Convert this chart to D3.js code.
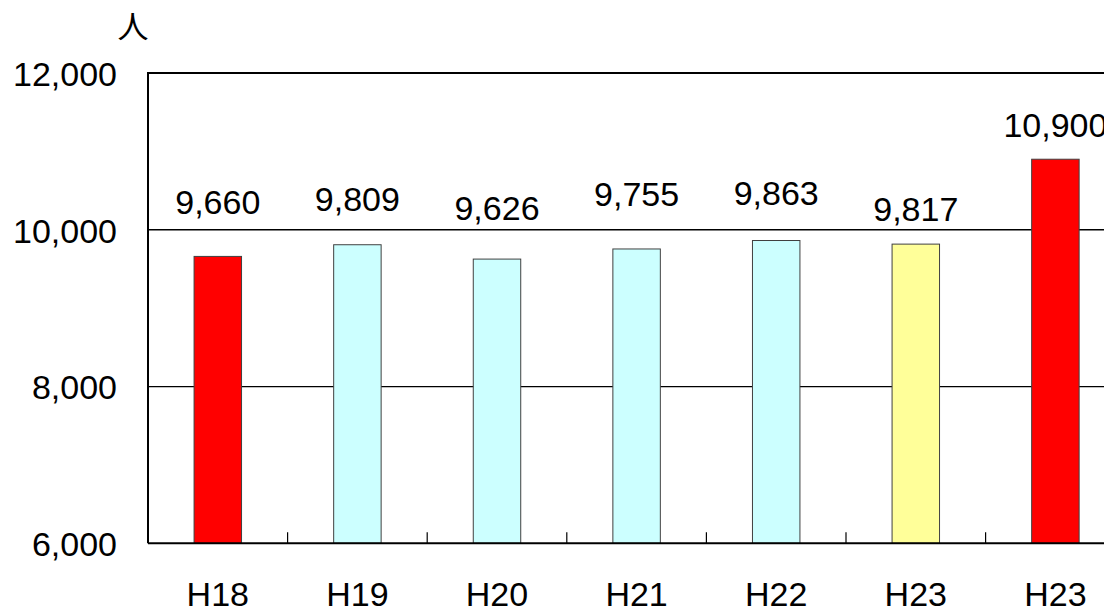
<!DOCTYPE html>
<html>
<head>
<meta charset="utf-8">
<script src="https://cdn.jsdelivr.net/npm/d3@7"></script>
<style>
  html, body { margin: 0; padding: 0; background: #fff; overflow: hidden; }
  svg { display: block; }
  text { font-family: "Liberation Sans", Arial, sans-serif; fill: #000; }
</style>
</head>
<body>
<svg width="1104" height="611"></svg>
<script>
// chart data
const categories = ['H18', 'H19', 'H20', 'H21', 'H22', 'H23', 'H23 '];
const values = [9660, 9809, 9626, 9755, 9863, 9817, 10900];
const barColors = ['#ff0000', '#ccffff', '#ccffff', '#ccffff', '#ccffff', '#ffff99', '#ff0000'];
const yTicks = [6000, 8000, 10000, 12000];
// how high each value label sits above its bar (px), labels were hand placed
const labelLift = [42, 34, 39, 43, 36, 23, 22];

const plotLeft = 148, plotTop = 73, plotBottom = 543.3;
const band = 139.6;
const plotWidth = band * categories.length;

const svg = d3.select('svg');

const x = d3.scaleBand()
  .domain(categories)
  .range([plotLeft, plotLeft + plotWidth])
  .paddingInner(0.66)
  .paddingOuter(0.33);

const y = d3.scaleLinear()
  .domain([6000, 12000])
  .range([plotBottom, plotTop]);

// gridlines
svg.append('g')
  .selectAll('line')
  .data(yTicks.filter(d => d > 6000 && d < 12000))
  .enter()
  .append('line')
  .attr('x1', plotLeft).attr('x2', plotLeft + plotWidth)
  .attr('y1', d => y(d)).attr('y2', d => y(d))
  .attr('stroke', '#000')
  .attr('stroke-width', 1.3);

// bars
svg.append('g')
  .selectAll('rect')
  .data(values)
  .enter()
  .append('rect')
  .attr('x', (d, i) => x(categories[i]))
  .attr('width', x.bandwidth())
  .attr('y', d => y(d))
  .attr('height', d => plotBottom - y(d))
  .attr('fill', (d, i) => barColors[i])
  .attr('stroke', '#404040')
  .attr('stroke-width', 1);

// plot frame (top + left)
svg.append('path')
  .attr('d', `M${plotLeft},${plotBottom}V${plotTop}H${plotLeft + plotWidth}`)
  .attr('fill', 'none')
  .attr('stroke', '#000')
  .attr('stroke-width', 2);

// x axis with inward ticks between categories
const xAxis = svg.append('g')
  .attr('transform', `translate(0,${plotBottom})`);
xAxis.append('line')
  .attr('x1', plotLeft).attr('x2', plotLeft + plotWidth)
  .attr('stroke', '#000').attr('stroke-width', 2);
xAxis.selectAll('.tick')
  .data(categories.slice(1))
  .enter()
  .append('line')
  .attr('x1', d => x(d) - x.step() * x.paddingOuter())
  .attr('x2', d => x(d) - x.step() * x.paddingOuter())
  .attr('y1', 0).attr('y2', -11)
  .attr('stroke', '#000').attr('stroke-width', 1.2);
xAxis.selectAll('.lab')
  .data(categories)
  .enter()
  .append('text')
  .attr('x', d => x(d) + x.bandwidth() / 2)
  .attr('y', 63)
  .attr('text-anchor', 'middle')
  .style('font-size', '34px')
  .text(d => d.trim());

// y axis labels
const fmt = d3.format(',');
svg.append('g')
  .selectAll('text')
  .data(yTicks)
  .enter()
  .append('text')
  .attr('x', 117)
  .attr('y', d => y(d))
  .attr('dy', '0.38em')
  .attr('text-anchor', 'end')
  .style('font-size', '34px')
  .text(d => fmt(d));

// unit
svg.append('text')
  .attr('x', 133)
  .attr('y', 38)
  .attr('text-anchor', 'middle')
  .style('font-family', '"Noto Sans CJK JP", sans-serif')
  .style('font-size', '31px')
  .text('人');

// value labels
svg.append('g')
  .selectAll('text')
  .data(values)
  .enter()
  .append('text')
  .attr('x', (d, i) => x(categories[i]) + x.bandwidth() / 2)
  .attr('y', (d, i) => y(d) - labelLift[i])
  .attr('text-anchor', 'middle')
  .style('font-size', '34px')
  .text(d => fmt(d));
</script>
</body>
</html>
